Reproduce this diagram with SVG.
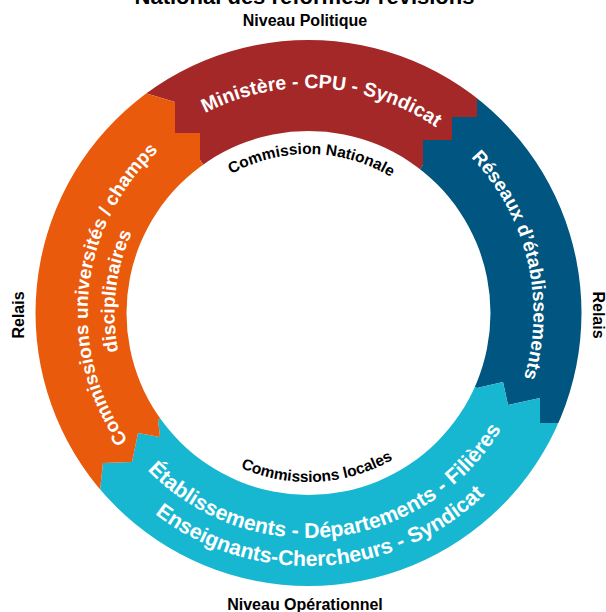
<svg xmlns="http://www.w3.org/2000/svg" xmlns:xlink="http://www.w3.org/1999/xlink" width="606" height="612" viewBox="0 0 606 612">
<style>
.lbl{font-family:"Liberation Sans",Arial,sans-serif;font-weight:bold;fill:#000;}
.w{font-family:"Liberation Sans",Arial,sans-serif;font-weight:bold;fill:#fff;}
.red{fill:#A52828}.blue{fill:#005680}.cyan{fill:#18B7D1}.orange{fill:#E95A0C}
</style>
<defs>
<clipPath id="ring"><path clip-rule="evenodd" d="M35.5,313 A273,273 0 1 0 581.5,313 A273,273 0 1 0 35.5,313 Z M126.5,313 A182,182 0 1 0 490.5,313 A182,182 0 1 0 126.5,313 Z"/></clipPath>
<path id="tp225" d="M83.5,313 A225,225 0 0 1 533.5,313"/>
<path id="tp221" d="M87.5,313 A221,221 0 0 1 529.5,313"/>
<path id="tp194" d="M114.5,313 A194,194 0 0 1 502.5,313"/>
<path id="tp159" d="M149.5,313 A159,159 0 0 1 467.5,313"/>
<path id="bp225" d="M83.5,313 A225,225 0 0 0 533.5,313"/>
<path id="bp253" d="M55.5,313 A253,253 0 0 0 561.5,313"/>
<path id="bp169" d="M139.5,313 A169,169 0 0 0 477.5,313"/>
</defs>
<rect width="606" height="612" fill="#fff"/>
<g id="outer-labels">
<text class="lbl" x="304.5" y="4" font-size="22" text-anchor="middle">National des réformes/ révisions</text>
<text class="lbl" x="305" y="26" font-size="16" text-anchor="middle">Niveau Politique</text>
<text class="lbl" x="305" y="609.5" font-size="16" text-anchor="middle">Niveau Opérationnel</text>
<text class="lbl" font-size="16" text-anchor="middle" transform="translate(23.5,315) rotate(-90)">Relais</text>
<text class="lbl" font-size="16" text-anchor="middle" transform="translate(592.5,315) rotate(90)">Relais</text>
</g>
<g clip-path="url(#ring)">
<g id="n-ministere"><polygon class="red" points="308.5,313 200,160 200,133 175,133 175,102 145,93 80,5 527,34 477,98 477,117 452,117 452,140 423,140 423,165"/></g>
<g id="n-reseaux"><polygon class="blue" points="308.5,313 423,165 423,140 452,140 452,117 477,117 477,98 527,34 700,200 630,455 557,423 540,423 540,398 508,405 503,382 477,388"/></g>
<g id="n-etablissements"><polygon class="cyan" points="308.5,313 477,388 503,382 508,405 540,398 540,423 557,423 630,455 500,680 100,680 40,541 100,490 103,463 132,462 138,433 160,437 158,420"/></g>
<g id="n-commissions"><polygon class="orange" points="308.5,313 158,420 160,437 138,433 132,462 103,463 100,490 40,541 -100,300 80,5 145,93 175,102 175,133 200,133 200,160"/></g>
</g>
<g id="t-ministere"><text class="w" font-size="19.5" transform="rotate(3.6,308.5,313)"><textPath href="#tp225" xlink:href="#tp225" startOffset="50%" text-anchor="middle">Ministère - CPU - Syndicat</textPath></text></g>
<g id="t-reseaux"><text class="w" font-size="19" transform="rotate(76.5,308.5,313)"><textPath href="#tp225" xlink:href="#tp225" startOffset="50%" text-anchor="middle">Réseaux d’établissements</textPath></text></g>
<g id="t-etablissements">
<text class="w" font-size="21.3" transform="rotate(-6.6,308.5,313)"><textPath href="#bp225" xlink:href="#bp225" startOffset="50%" text-anchor="middle">Établissements - Départements - Filières</textPath></text>
<text class="w" font-size="21.3" transform="rotate(-3.4,308.5,313)"><textPath href="#bp253" xlink:href="#bp253" startOffset="50%" text-anchor="middle">Enseignants-Chercheurs - Syndicat</textPath></text>
</g>
<g id="t-commissions">
<text class="w" font-size="19" transform="rotate(-84,308.5,313)"><textPath href="#tp221" xlink:href="#tp221" startOffset="50%" text-anchor="middle">Commissions universités / champs</textPath></text>
<text class="w" font-size="19" transform="rotate(-83.5,308.5,313)"><textPath href="#tp194" xlink:href="#tp194" startOffset="50%" text-anchor="middle">disciplinaires</textPath></text>
</g>
<g id="t-nationale"><text class="lbl" font-size="15.5" transform="rotate(1.1,308.5,313)"><textPath href="#tp159" xlink:href="#tp159" startOffset="50%" text-anchor="middle">Commission Nationale</textPath></text></g>
<g id="t-locales"><text class="lbl" font-size="15.5" transform="rotate(-3.15,308.5,313)"><textPath href="#bp169" xlink:href="#bp169" startOffset="50%" text-anchor="middle">Commissions locales</textPath></text></g>
</svg>
